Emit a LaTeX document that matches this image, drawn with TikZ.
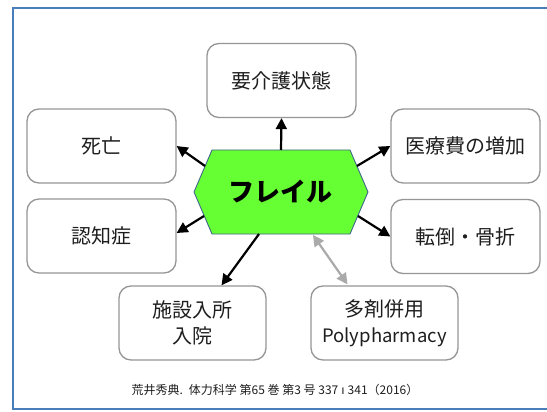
\documentclass[tikz,border=0pt]{standalone}
\usepackage{fontspec}
\setmainfont{Noto Sans CJK JP}
\newfontfamily\jp{Noto Sans CJK JP}
\newfontfamily\djv{DejaVu Sans}
\usetikzlibrary{arrows.meta,calc}
\definecolor{framecol}{RGB}{74,126,187}
\definecolor{boxline}{RGB}{150,150,150}
\definecolor{hexfill}{RGB}{102,255,51}
\definecolor{hexline}{RGB}{65,100,140}
\definecolor{txt}{RGB}{30,30,30}
\definecolor{garrcol}{RGB}{170,170,170}
\tikzset{
  outbox/.style={draw=boxline, line width=1.3pt, rounded corners=12pt, fill=white,
    minimum width=149pt, minimum height=74pt, inner sep=0pt, align=center,
    font=\jp\fontsize{20}{26}\selectfont, text=txt},
  arr/.style={line width=2.2pt, -{Triangle[length=11pt,width=11pt]}},
  garr/.style={line width=2.2pt, draw=garrcol, fill=garrcol,
    {Triangle[length=11pt,width=11pt]}-{Triangle[length=11pt,width=11pt]}},
}
\begin{document}
\begin{tikzpicture}[x=1pt,y=-1pt]
\useasboundingbox (0,0) rectangle (547,412);
\fill[white] (0,0) rectangle (547,412);
% frame
\draw[framecol, line width=2.6pt] (550,8) -- (13,8) -- (13,409) -- (550,409);
% boxes
\node[outbox] (care) at (281.5,80.5) {要介護状態};
\node[outbox] (death) at (101.5,146) {死亡};
\node[outbox] (dementia) at (101.5,236) {認知症};
\node[outbox] (cost) at (465.5,146) {医療費の増加};
\node[outbox] (fall) at (465.5,236.5) {転倒・骨折};
\node[outbox, minimum width=147pt] (inst) at (192.5,323) {施設入所\\入院};
\node[outbox, minimum width=147pt] (poly) at (384.5,323) {多剤併用\\{\fontsize{18.5}{26}\selectfont Polypharmacy}};
% hexagon
\coordinate (hL) at (194,192);
\coordinate (hTL) at (212,150);
\coordinate (hTR) at (350,150);
\coordinate (hR) at (368,192);
\coordinate (hBR) at (350,234);
\coordinate (hBL) at (212,234);
\draw[fill=hexfill, draw=hexline, line width=0.9pt] (hL) -- (hTL) -- (hTR) -- (hR) -- (hBR) -- (hBL) -- cycle;
\node[font=\jp\bfseries\fontsize{26}{30}\selectfont, text=black] (frail) at (280,192) {フレイル};
% arrow starts on hexagon
\coordinate (sT) at (281,150);
\coordinate (sUL) at (205,166);
\coordinate (sLL) at (204,216);
\coordinate (sUR) at (357,166);
\coordinate (sLR) at (358,216);
\coordinate (sB1) at (259,234);
\coordinate (sB2) at (313,235);
\draw[arr] (sT) -- (care.south);
\draw[arr] (sUL) -- (death.east);
\draw[arr] (sLL) -- ($(dementia.east)+(0,-3)$);
\draw[arr] (sUR) -- (cost.west);
\draw[arr] (sLR) -- (fall.west);
\draw[arr] (sB1) -- ($(inst.north)+(29,0)$);
\draw[garr] (sB2) -- ($(poly.north)+(-37,-1)$);
% citation
\node[font=\jp\fontsize{12}{14}\selectfont, text=txt] (cite) at (275,390) {荒井秀典.\enspace 体力科学 第65 巻 第3 号 337\kern3pt{\djv ı}\kern3pt 341（2016）};
\end{tikzpicture}
\end{document}
